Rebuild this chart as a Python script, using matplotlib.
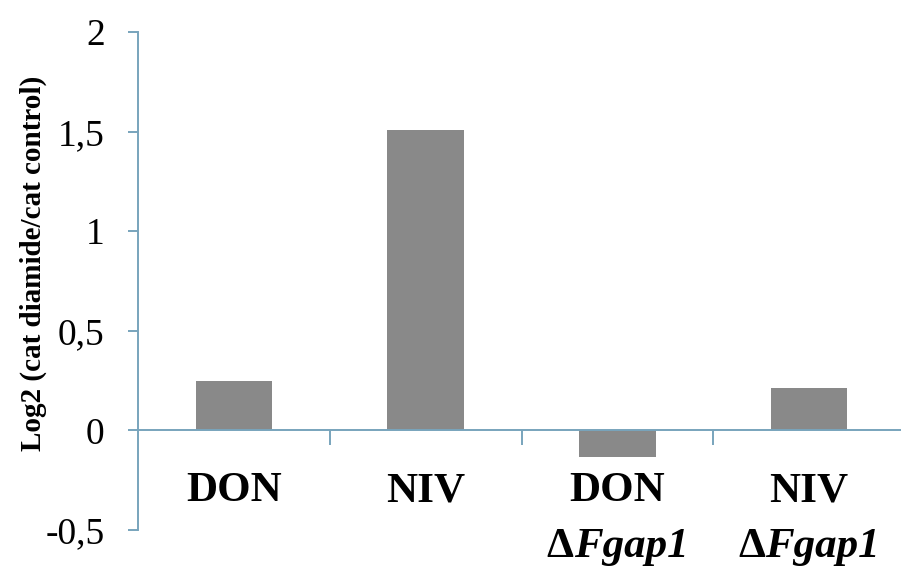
import numpy as np
import matplotlib.pyplot as plt
import matplotlib

matplotlib.rc('font', **{'family': 'serif',
                         'serif': ['Liberation Serif'], 'size': 27})

toxins = ['DON', 'NIV', 'DON', 'NIV']
mutant = [False, False, True, True]
log2_ratio = [0.25, 1.51, -0.135, 0.215]

y_ticks = [-0.5, 0, 0.5, 1, 1.5, 2]
y_ticklabels = ['-0,5', '0', '0,5', '1', '1,5', '2']

axis_col = '#78a4bc'
bar_col = '#898989'

fig = plt.figure(figsize=(9.01, 5.74), dpi=100)
ax = fig.add_axes([138/901., 44/574., 767/901., 498/574.])

x = np.arange(len(toxins))
ax.bar(x, log2_ratio, width=0.4, color=bar_col, zorder=1)

ax.set_xlim(-0.5, len(toxins) - 0.5)
ax.set_ylim(-0.5, 2)

for s in ['top', 'right']:
    ax.spines[s].set_visible(False)
ax.spines['bottom'].set_position(('data', 0))
for s in ['left', 'bottom']:
    ax.spines[s].set_color(axis_col)
    ax.spines[s].set_linewidth(1.4)
    ax.spines[s].set_zorder(3)

ax.set_yticks(y_ticks)
ax.set_yticklabels(y_ticklabels)
ax.tick_params(axis='y', direction='out', length=7, width=1.4,
               color=axis_col, pad=17, labelsize=27)

ax.set_xticks(x[:-1] + 0.5)
ax.set_xticklabels([])
ax.tick_params(axis='x', direction='out', length=11, width=1.4,
               color=axis_col)

fig.text(33/901., 1 - 263/574., 'Log2 (cat diamide/cat control)', rotation=90,
         ha='center', va='center', fontsize=21, fontweight='bold')

# category labels below the zero line
fig.canvas.draw()
r = fig.canvas.get_renderer()
for i in x:
    ax.annotate(toxins[i], xy=(i, 0), xytext=(0, -51), textcoords='offset points',
                ha='center', va='baseline', fontsize=31, fontweight='bold')
    if mutant[i]:
        d = ax.annotate(u'\u0394', xy=(i, 0), xytext=(0, -91), textcoords='offset points',
                        ha='right', va='baseline', fontsize=31, fontweight='bold')
        f = ax.annotate('Fgap1', xy=(i, 0), xytext=(0, -91), textcoords='offset points',
                        ha='left', va='baseline', fontsize=31, fontweight='bold',
                        fontstyle='italic')
        wd = d.get_window_extent(r).width
        wf = f.get_window_extent(r).width
        shift = (wd - wf) / 2. * 72. / fig.dpi
        d.xyann = (shift, -91)
        f.xyann = (shift, -91)

fig.savefig('out.png', dpi=100)
